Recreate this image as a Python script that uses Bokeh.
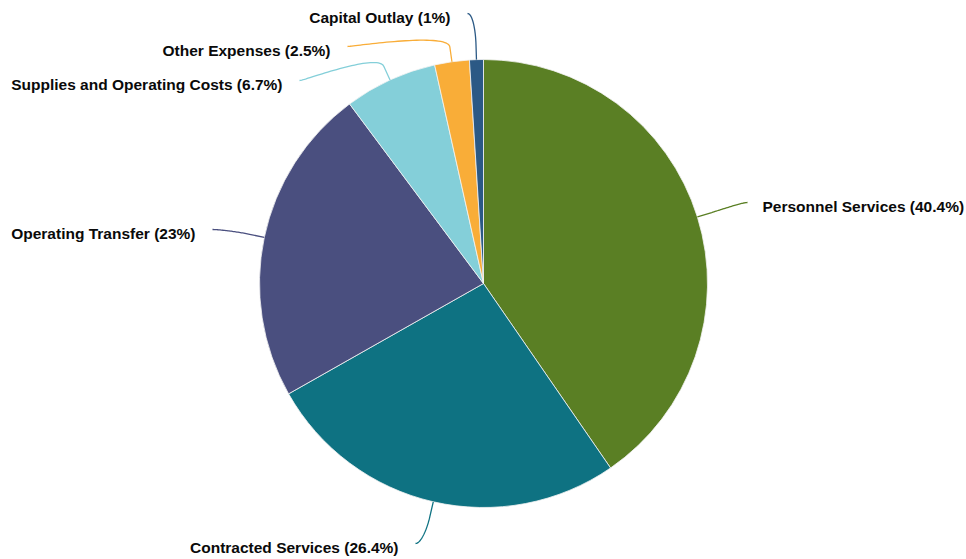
import numpy as np
from bokeh.plotting import figure
from bokeh.models import Range1d, ColumnDataSource
from bokeh.embed import file_html
from bokeh.resources import INLINE
from bokeh.core.properties import value

# ---- data ----
categories = ["Personnel Services", "Contracted Services", "Operating Transfer",
              "Supplies and Operating Costs", "Other Expenses", "Capital Outlay"]
shares = [40.4, 26.4, 23.0, 6.7, 2.5, 1.0]
share_labels = ["40.4%", "26.4%", "23%", "6.7%", "2.5%", "1%"]
colors = ["#5a7f24", "#0e7282", "#4a4f7f", "#84cfd9", "#f9ad38", "#2b5985"]

# ---- layout (pixel space; y measured from the top of the plot) ----
W, H = 966, 559
CX, CY, R = 483, 283, 224
# connector end points next to each label (layout only)
lab_x = [747, 415, 212, 299, 347, 467]
lab_y = [202, 543, 229, 80, 46, 13]
lab_align = ["left", "right", "right", "right", "right", "right"]

p = figure(width=W, height=H, output_backend="svg", toolbar_location=None,
           x_range=Range1d(0, W), y_range=Range1d(0, H),
           min_border=0, outline_line_color=None)
p.axis.visible = False
p.grid.visible = False
p.background_fill_color = "white"
p.border_fill_color = "white"

vals = np.array(shares, dtype=float)
frac = vals / vals.sum()
cum_after = np.cumsum(frac)
cum_before = cum_after - frac
start = np.pi / 2 - 2 * np.pi * cum_after
end = np.pi / 2 - 2 * np.pi * cum_before
mid = (start + end) / 2

src = ColumnDataSource(dict(x=[CX] * len(vals), y=[H - CY] * len(vals),
                            start=start, end=end, color=colors))
p.wedge(x="x", y="y", radius=R, start_angle="start", end_angle="end",
        fill_color="color", line_color="#f4f4f4", line_width=0.8,
        direction="anticlock", source=src)

def to_data_y(yy):
    return H - yy

# connectors (Highcharts-like soft connector)
for i in range(len(vals)):
    c, s = np.cos(mid[i]), np.sin(mid[i])
    tx, ty = CX + R * c, CY - R * s
    bx, by = CX + (R + 15) * c, CY - (R + 15) * s
    c2x, c2y = 2 * bx - tx, 2 * by - ty
    lx, ly = lab_x[i], lab_y[i]
    c1x = lx + (-5 if lab_align[i] == "left" else 5)
    c1y = ly
    t = np.linspace(0, 1, 40)
    bxs = ((1 - t) ** 3) * lx + 3 * ((1 - t) ** 2) * t * c1x + 3 * (1 - t) * t ** 2 * c2x + t ** 3 * bx
    bys = ((1 - t) ** 3) * ly + 3 * ((1 - t) ** 2) * t * c1y + 3 * (1 - t) * t ** 2 * c2y + t ** 3 * by
    xs = list(bxs) + [tx]
    ys = [to_data_y(v) for v in list(bys) + [ty]]
    p.line(xs, ys, line_color=colors[i], line_width=1.3)

# labels
texts = [f"{c} ({l})" for c, l in zip(categories, share_labels)]
tx_ = [lx + (15 if a == "left" else -17) for lx, a in zip(lab_x, lab_align)]
ty_ = [to_data_y(ly + 4) for ly in lab_y]
lsrc = ColumnDataSource(dict(x=tx_, y=ty_, text=texts, align=lab_align))
p.text(x="x", y="y", text="text", text_align="align", text_baseline="middle",
       text_font=value("Liberation Sans"), text_font_style="bold",
       text_font_size="15.5px", text_color="#0a0a0a", source=lsrc)

open("out.html", "w").write(file_html(p, INLINE))
